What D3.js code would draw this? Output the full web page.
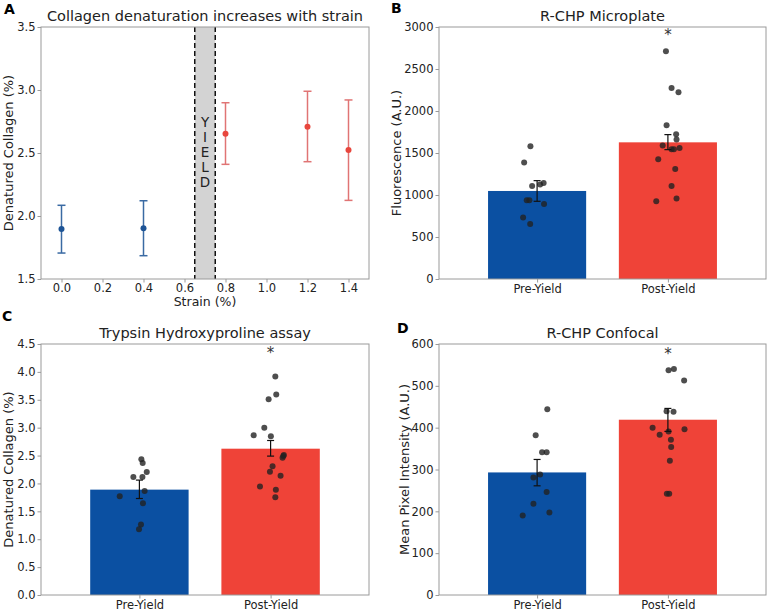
<!DOCTYPE html>
<html>
<head>
<meta charset="utf-8">
<script src="https://cdn.jsdelivr.net/npm/d3@7"></script>
<style>
  body { margin: 0; background: #fff; }
  svg { display: block; font-family: "DejaVu Sans", sans-serif; }
</style>
</head>
<body>
<svg id="chart" width="770" height="611"></svg>
<script>
// ---------- Panel A data ----------
const strainValues = [0.0, 0.4, 0.8, 1.2, 1.4];
const strainMean   = [1.897, 1.902, 2.653, 2.709, 2.524];
const strainLow    = [1.706, 1.685, 2.410, 2.431, 2.124];
const strainHigh   = [2.085, 2.121, 2.899, 2.990, 2.921];
const strainGroup  = ["pre", "pre", "post", "post", "post"];
const yieldBand    = [0.65, 0.75];
const yieldLetters = ["Y", "I", "E", "L", "D"];
const aXTicks = [0.0, 0.2, 0.4, 0.6, 0.8, 1.0, 1.2, 1.4];
const aYTicks = [1.5, 2.0, 2.5, 3.0, 3.5];

// ---------- Shared categories ----------
const categories = ["Pre-Yield", "Post-Yield"];

// ---------- Panel B data (R-CHP Microplate) ----------
const bMeans = [1048, 1627];
const bErrLow = [925, 1540];
const bErrHigh = [1171, 1719];
const bPreVals = [1580, 1386, 1107, 1124, 1143, 937, 937, 893, 731, 655];
const bPreJit  = [-0.051, -0.099, -0.038, 0.023, 0.050, -0.079, -0.059, 0.053, -0.107, -0.053];
const bPostVals = [2711, 2274, 2223, 1830, 1723, 1660, 1588, 1544, 1544, 1560, 1425, 1310, 1107, 925, 957];
const bPostJit  = [-0.015, 0.028, 0.081, -0.010, 0.063, 0.066, -0.040, 0.028, 0.046, 0.089, -0.074, 0.056, 0.028, -0.089, 0.066];
const bStar = 2910;
const bYTicks = [0, 500, 1000, 1500, 2000, 2500, 3000];

// ---------- Panel C data (Trypsin Hydroxyproline) ----------
const cMeans = [1.889, 2.623];
const cErrLow = [1.73, 2.49];
const cErrHigh = [2.06, 2.77];
const cPreVals = [2.433, 2.367, 2.206, 2.116, 2.116, 1.866, 1.771, 1.646, 1.263, 1.180];
const cPreJit  = [0.015, 0.025, 0.056, -0.046, 0.023, 0.040, -0.150, 0.027, 0.012, -0.003];
const cPostVals = [3.917, 3.595, 3.510, 2.998, 2.862, 2.844, 2.510, 2.490, 2.460, 2.307, 2.211, 2.140, 1.943, 1.889, 1.753];
const cPostJit  = [0.036, 0.043, -0.015, -0.048, -0.129, 0.002, 0.101, 0.097, 0.091, 0.015, -0.005, 0.076, -0.081, 0.040, 0.036];
const cStar = 4.33;
const cYTicks = [0.0, 0.5, 1.0, 1.5, 2.0, 2.5, 3.0, 3.5, 4.0, 4.5];

// ---------- Panel D data (R-CHP Confocal) ----------
const dMeans = [293, 419];
const dErrLow = [261, 391];
const dErrHigh = [324, 446];
const dPreVals = [444, 382, 341, 341, 288, 281, 246, 218, 197, 190];
const dPreJit  = [0.078, -0.011, 0.038, 0.073, 0.023, -0.028, 0.073, -0.028, 0.094, -0.110];
const dPostVals = [540, 537, 513, 439, 438, 400, 383, 391, 396, 371, 354, 321, 242, 242];
const dPostJit  = [0.046, 0.005, 0.124, -0.010, 0.043, -0.117, -0.063, 0.005, 0.127, 0.023, 0.025, 0.015, -0.008, 0.010];
const dStar = 577;
const dYTicks = [0, 100, 200, 300, 400, 500, 600];

// ---------- Styles ----------
const BLUE = "#0b50a2";
const RED = "#ef4338";
const SPINE = "#9a9a9a";
const TXT = "#222";

const svg = d3.select("#chart");

function frame(g, x0, x1, y0, y1) {
  g.append("rect").attr("x", x0).attr("y", y0).attr("width", x1 - x0).attr("height", y1 - y0)
    .attr("fill", "none").attr("stroke", SPINE).attr("stroke-width", 1);
}

function styleAxis(sel) {
  sel.select(".domain").remove();
  sel.selectAll(".tick line").attr("stroke", SPINE).attr("stroke-width", 1);
  sel.selectAll(".tick text").attr("fill", TXT).style("font-size", "11.5px")
     .style("font-family", "DejaVu Sans, sans-serif");
}

function panelLabel(txt, x, y) {
  svg.append("text").attr("x", x).attr("y", y).text(txt)
    .style("font-size", "14px").style("font-weight", "bold").attr("fill", "#000");
}
function title(txt, cx, y) {
  svg.append("text").attr("x", cx).attr("y", y).attr("text-anchor", "middle").text(txt)
    .style("font-size", "14.5px").attr("fill", TXT);
}
function yLabel(txt, x, cy) {
  svg.append("text").attr("transform", `translate(${x},${cy}) rotate(-90)`)
    .attr("text-anchor", "middle").attr("dominant-baseline", "central").text(txt)
    .style("font-size", "13px").attr("fill", TXT);
}

// ---------- Panel A ----------
(function () {
  const L = 41, R = 369, T = 27, B = 279;
  const x = d3.scaleLinear().domain([-0.1, 1.5]).range([L, R]);
  const y = d3.scaleLinear().domain([1.5, 3.5]).range([B, T]);
  const g = svg.append("g");

  // yield band
  g.append("rect").attr("x", x(yieldBand[0])).attr("y", T)
    .attr("width", x(yieldBand[1]) - x(yieldBand[0])).attr("height", B - T)
    .attr("fill", "#d3d3d3");
  yieldBand.forEach(v => {
    g.append("line").attr("x1", x(v)).attr("x2", x(v)).attr("y1", T).attr("y2", B)
      .attr("stroke", "#111").attr("stroke-width", 1.5).attr("stroke-dasharray", "5,3");
  });
  const mid = (yieldBand[0] + yieldBand[1]) / 2;
  yieldLetters.forEach((ch, i) => {
    g.append("text").attr("x", x(mid)).attr("y", 122 + i * 15)
      .attr("text-anchor", "middle").attr("dominant-baseline", "central")
      .text(ch).style("font-size", "13.5px").attr("fill", TXT);
  });

  // error bars + points
  strainValues.forEach((s, i) => {
    const isPre = strainGroup[i] === "pre";
    const ecol = isPre ? "#3a6aa3" : "#e07474";
    const pcol = isPre ? "#1d5496" : "#e8463d";
    const cx = x(s);
    g.append("line").attr("x1", cx).attr("x2", cx).attr("y1", y(strainLow[i])).attr("y2", y(strainHigh[i]))
      .attr("stroke", ecol).attr("stroke-width", 1.5);
    [strainLow[i], strainHigh[i]].forEach(v => {
      g.append("line").attr("x1", cx - 4).attr("x2", cx + 4).attr("y1", y(v)).attr("y2", y(v))
        .attr("stroke", ecol).attr("stroke-width", 1.5);
    });
    g.append("circle").attr("cx", cx).attr("cy", y(strainMean[i])).attr("r", 3).attr("fill", pcol);
  });

  frame(g, L, R, T, B);
  const xa = g.append("g").attr("transform", `translate(0,${B})`)
    .call(d3.axisBottom(x).tickValues(aXTicks).tickFormat(d3.format(".1f")).tickSize(3.5).tickPadding(1.5));
  styleAxis(xa);
  const ya = g.append("g").attr("transform", `translate(${L},0)`)
    .call(d3.axisLeft(y).tickValues(aYTicks).tickFormat(d3.format(".1f")).tickSize(3.5).tickPadding(2));
  styleAxis(ya);

  panelLabel("A", 4, 14);
  title("Collagen denaturation increases with strain", (L + R) / 2, 21);
  yLabel("Denatured Collagen (%)", 8.5, (T + B) / 2);
  svg.append("text").attr("x", (L + R) / 2).attr("y", 306).attr("text-anchor", "middle")
    .text("Strain (%)").style("font-size", "12.5px").attr("fill", TXT);
})();

// ---------- Bar panels ----------
function barPanel(opts) {
  const { L, R, T, B, domainY, ticks, fmt, means, lo, hi, pre, preJ, post, postJ, star } = opts;
  const x = d3.scaleLinear().domain([-0.75, 1.75]).range([L, R]);
  const y = d3.scaleLinear().domain(domainY).range([B, T]);
  const g = svg.append("g");
  const bw = 0.75;
  const colors = [BLUE, RED];

  means.forEach((m, i) => {
    g.append("rect").attr("x", x(i - bw / 2)).attr("y", y(m))
      .attr("width", x(i + bw / 2) - x(i - bw / 2)).attr("height", y(domainY[0]) - y(m))
      .attr("fill", colors[i]);
  });

  const pts = [];
  pre.forEach((v, k) => pts.push({ c: 0, v, j: preJ[k] }));
  post.forEach((v, k) => pts.push({ c: 1, v, j: postJ[k] }));
  g.selectAll("circle.pt").data(pts).enter().append("circle")
    .attr("cx", d => x(d.c + d.j)).attr("cy", d => y(d.v)).attr("r", 3)
    .attr("fill", "#222").attr("fill-opacity", 0.8);

  means.forEach((m, i) => {
    const cx = x(i);
    g.append("line").attr("x1", cx).attr("x2", cx).attr("y1", y(lo[i])).attr("y2", y(hi[i]))
      .attr("stroke", "#111").attr("stroke-width", 1.2);
    [lo[i], hi[i]].forEach(v => {
      g.append("line").attr("x1", cx - 3.5).attr("x2", cx + 3.5).attr("y1", y(v)).attr("y2", y(v))
        .attr("stroke", "#111").attr("stroke-width", 1.2);
    });
  });

  g.append("text").attr("x", x(1)).attr("y", y(star) + 5).attr("text-anchor", "middle")
    .text("*").style("font-size", "15px").attr("fill", "#333");

  frame(g, L, R, T, B);
  const xa = g.append("g").attr("transform", `translate(0,${B})`)
    .call(d3.axisBottom(x).tickValues([0, 1]).tickFormat(i => categories[i]).tickSize(3.5).tickPadding(2));
  styleAxis(xa);
  const ya = g.append("g").attr("transform", `translate(${L},0)`)
    .call(d3.axisLeft(y).tickValues(ticks).tickFormat(fmt).tickSize(3.5).tickPadding(2));
  styleAxis(ya);
}

barPanel({ L: 439, R: 766, T: 27, B: 279, domainY: [0, 3000], ticks: bYTicks, fmt: d3.format("d"),
  means: bMeans, lo: bErrLow, hi: bErrHigh, pre: bPreVals, preJ: bPreJit, post: bPostVals, postJ: bPostJit, star: bStar });
panelLabel("B", 391, 13);
title("R-CHP Microplate", (439 + 766) / 2, 21);
yLabel("Fluorescence (A.U.)", 396, (27 + 279) / 2);

barPanel({ L: 41, R: 369, T: 344, B: 595, domainY: [0, 4.5], ticks: cYTicks, fmt: d3.format(".1f"),
  means: cMeans, lo: cErrLow, hi: cErrHigh, pre: cPreVals, preJ: cPreJit, post: cPostVals, postJ: cPostJit, star: cStar });
panelLabel("C", 2, 321);
title("Trypsin Hydroxyproline assay", (41 + 369) / 2, 338);
yLabel("Denatured Collagen (%)", 8, (344 + 595) / 2);

barPanel({ L: 439, R: 766, T: 344, B: 595, domainY: [0, 600], ticks: dYTicks, fmt: d3.format("d"),
  means: dMeans, lo: dErrLow, hi: dErrHigh, pre: dPreVals, preJ: dPreJit, post: dPostVals, postJ: dPostJit, star: dStar });
panelLabel("D", 397, 333);
title("R-CHP Confocal", (439 + 766) / 2, 338);
yLabel("Mean Pixel Intensity (A.U.)", 404, (344 + 595) / 2);
</script>
</body>
</html>
